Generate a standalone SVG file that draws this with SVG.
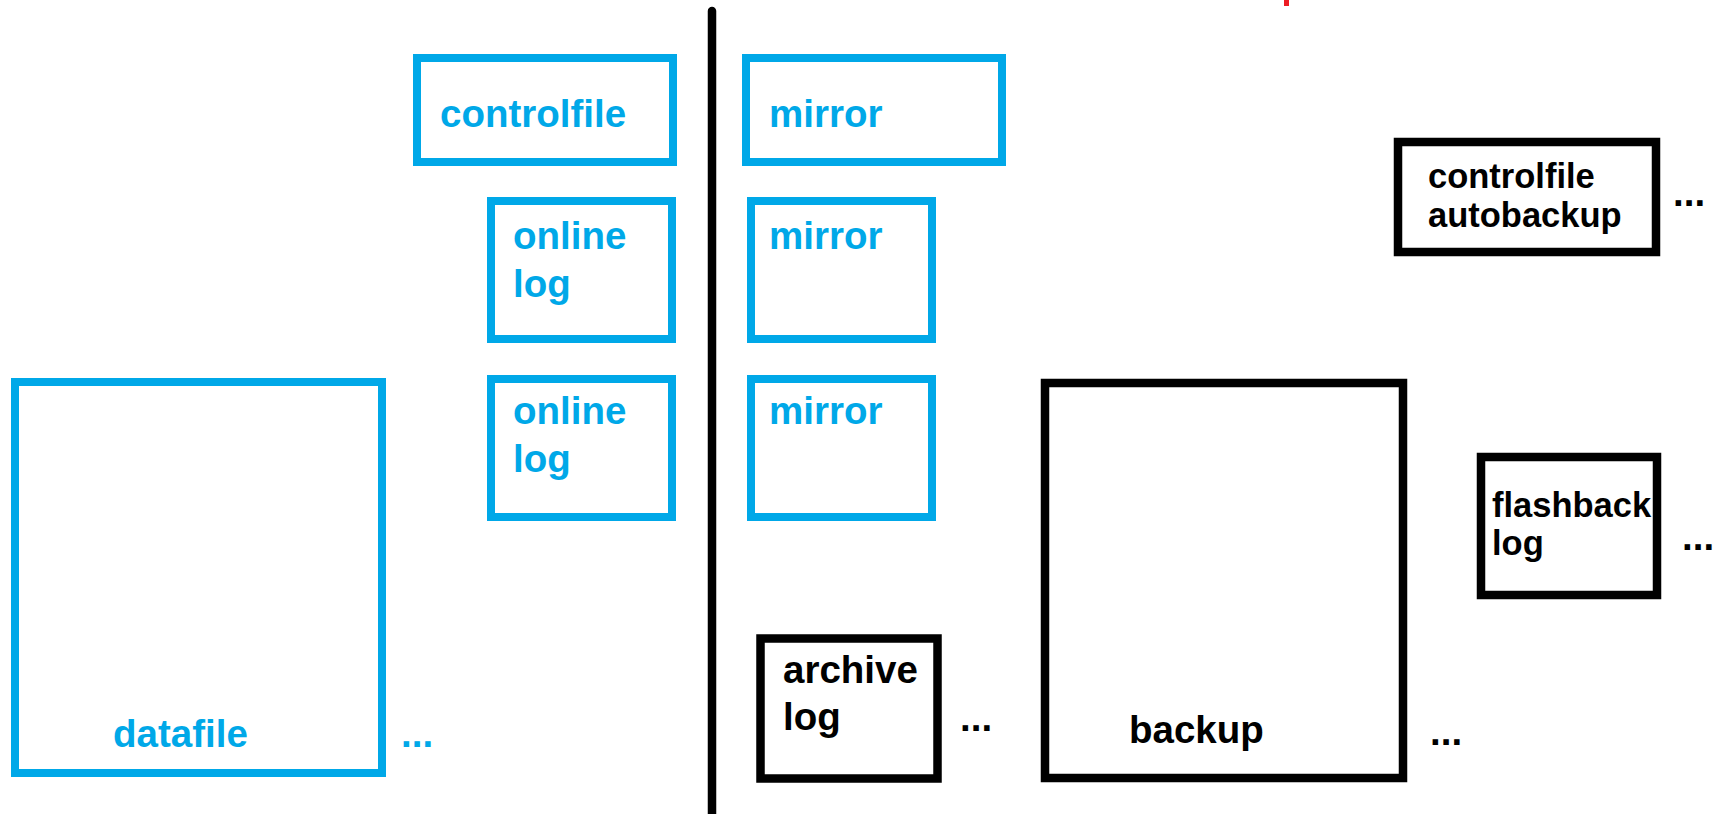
<svg xmlns="http://www.w3.org/2000/svg" width="1723" height="814" viewBox="0 0 1723 814">
  <style>
    .blue { fill: none; stroke: #00A8E8; stroke-width: 8; }
    .black { fill: none; stroke: #000000; stroke-width: 8.5; }
    .tb { font-family: "Liberation Sans", Arial, sans-serif; font-weight: bold; font-size: 38.5px; fill: #00A8E8; }
    .tk { font-family: "Liberation Sans", Arial, sans-serif; font-weight: bold; font-size: 38.5px; fill: #000000; }
    .ts { font-family: "Liberation Sans", Arial, sans-serif; font-weight: bold; font-size: 34.5px; fill: #000000; }
  </style>
  <rect width="1723" height="814" fill="#ffffff"/>

  <!-- divider and small red mark -->
  <g id="connectors">
    <line x1="712" y1="11" x2="712" y2="820" stroke="#000000" stroke-width="8.5" stroke-linecap="round"/>
    <rect x="1284" y="0" width="5" height="6" fill="#ED1C24"/>
  </g>

  <!-- primary (blue) files -->
  <g id="controlfile">
    <rect class="blue" x="417" y="58" width="256" height="104"/>
    <text class="tb" x="440" y="127">controlfile</text>
  </g>
  <g id="mirror1">
    <rect class="blue" x="746" y="58" width="256" height="104"/>
    <text class="tb" x="769" y="127">mirror</text>
  </g>
  <g id="onlinelog1">
    <rect class="blue" x="491" y="201" width="181" height="138"/>
    <text class="tb" x="513" y="249">online</text>
    <text class="tb" x="513" y="297">log</text>
  </g>
  <g id="mirror2">
    <rect class="blue" x="751" y="201" width="181" height="138"/>
    <text class="tb" x="769" y="249">mirror</text>
  </g>
  <g id="onlinelog2">
    <rect class="blue" x="491" y="379" width="181" height="138"/>
    <text class="tb" x="513" y="424">online</text>
    <text class="tb" x="513" y="472">log</text>
  </g>
  <g id="mirror3">
    <rect class="blue" x="751" y="379" width="181" height="138"/>
    <text class="tb" x="769" y="424">mirror</text>
  </g>
  <g id="datafile">
    <rect class="blue" x="15" y="382" width="367" height="391"/>
    <text class="tb" x="113" y="747">datafile</text>
    <text class="tb" x="401" y="747">...</text>
  </g>

  <!-- recovery (black) files -->
  <g id="archivelog">
    <rect class="black" x="760.5" y="638.5" width="177" height="140"/>
    <text class="tk" x="783" y="683">archive</text>
    <text class="tk" x="783" y="730">log</text>
    <text class="tk" x="960" y="731">...</text>
  </g>
  <g id="backup">
    <rect class="black" x="1045" y="383" width="358" height="395"/>
    <text class="tk" x="1129" y="743">backup</text>
    <text class="tk" x="1430" y="745">...</text>
  </g>
  <g id="controlfileautobackup">
    <rect class="black" x="1398" y="142" width="258" height="110"/>
    <text class="ts" x="1428" y="188">controlfile</text>
    <text class="ts" x="1428" y="227">autobackup</text>
    <text class="tk" x="1673" y="206">...</text>
  </g>
  <g id="flashbacklog">
    <rect class="black" x="1481" y="457" width="176" height="138"/>
    <text class="ts" x="1492" y="517">flashback</text>
    <text class="ts" x="1492" y="555">log</text>
    <text class="tk" x="1682" y="550">...</text>
  </g>
</svg>
